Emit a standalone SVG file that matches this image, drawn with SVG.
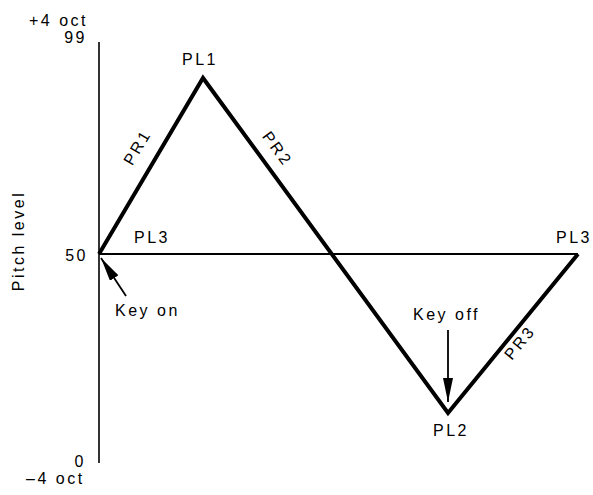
<svg xmlns="http://www.w3.org/2000/svg" width="593" height="495" viewBox="0 0 593 495">
<style>
text{font-family:"Liberation Sans",Arial,sans-serif;font-size:16px;fill:#000;letter-spacing:2.5px}
.ax{stroke:#000;stroke-width:1.6;fill:none}
.env{stroke:#000;stroke-width:4;fill:none;stroke-linejoin:miter}
.arr{stroke:#000;stroke-width:1.8;fill:none}
</style>
<defs>
<marker id="ah" markerUnits="userSpaceOnUse" markerWidth="26" markerHeight="12" refX="24" refY="5" orient="auto">
<path d="M0,0 L24,5 L0,10 Z" fill="#000"/>
</marker>
</defs>
<g id="axes">
<line class="ax" x1="99" y1="42" x2="99" y2="463"/>
<line class="ax" x1="99" y1="254" x2="578" y2="254" style="stroke-width:2"/>
<text x="29" y="26">+4 oct</text>
<text x="87" y="43" text-anchor="end">99</text>
<text x="88" y="261" text-anchor="end">50</text>
<text x="86" y="467" text-anchor="end">0</text>
<text x="26" y="484">–4 oct</text>
<text transform="translate(24,241) rotate(-90)" text-anchor="middle">Pitch level</text>
</g>
<g id="envelope">
<polyline class="env" points="99,254 203,78 448,413 578,254"/>
</g>
<g id="labels">
<text x="200" y="65" text-anchor="middle">PL1</text>
<text x="152" y="243" text-anchor="middle">PL3</text>
<text x="574" y="243" text-anchor="middle">PL3</text>
<text x="451" y="436" text-anchor="middle">PL2</text>
<text transform="translate(142,150) rotate(-59.4)" text-anchor="middle">PR1</text>
<text transform="translate(273,152) rotate(53.8)" text-anchor="middle">PR2</text>
<text transform="translate(524,346) rotate(-50.7)" text-anchor="middle">PR3</text>
<text x="115" y="316">Key on</text>
<text x="413" y="320">Key off</text>
</g>
<g id="connectors">
<line class="arr" x1="126" y1="296" x2="101" y2="258" marker-end="url(#ah)"/>
<line class="arr" x1="448" y1="330" x2="448" y2="402" marker-end="url(#ah)"/>
</g>
</svg>
